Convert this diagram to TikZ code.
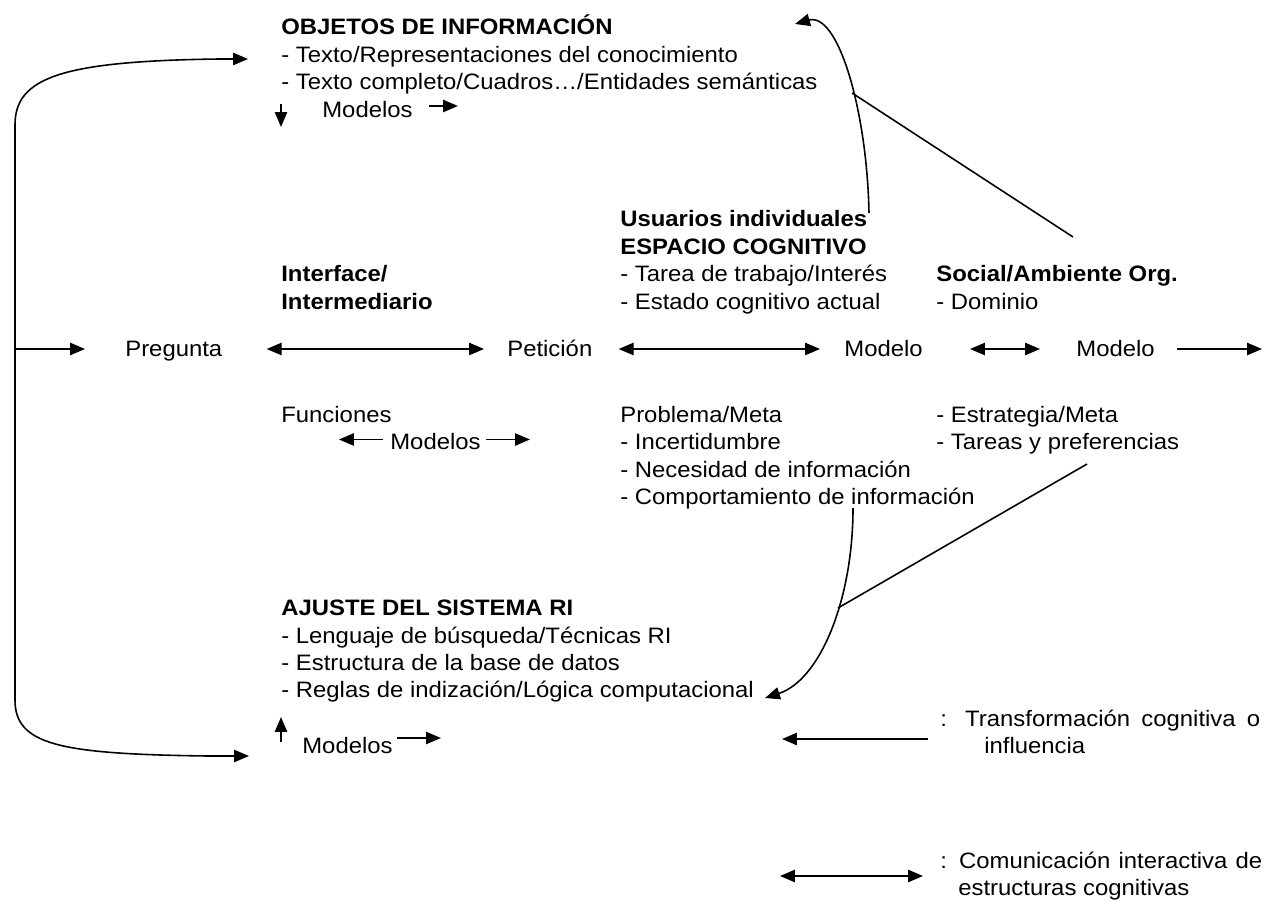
\documentclass[tikz,border=0pt]{standalone}
\usepackage{fontspec}
\setmainfont{Liberation Sans}[FakeStretch=1.07]
\usetikzlibrary{arrows.meta,calc}
% left-aligned block of lines whose baseline is that of its first line
\newcommand\lineblock[1]{\vtop{\halign{##\hfil\cr#1\crcr}}}
\begin{document}
\begin{tikzpicture}[x=0.02cm,y=-0.02cm,
  txt/.style={anchor=base west,inner sep=0pt,
    font=\fontsize{12.7}{15.65}\selectfont},
  conn/.style={line width=0.9pt,line cap=butt},
  tip/.style={conn,-{Triangle[length=8.5pt,width=7pt]}},
  dtip/.style={conn,{Triangle[length=8.5pt,width=7pt]}-{Triangle[length=8.5pt,width=7pt]}},
]
\useasboundingbox (0,0) rectangle (1266,901);

% ---- text blocks (placed by the baseline of their first line)
\node[txt] (obj) at (281,35) {\lineblock{\textbf{OBJETOS DE INFORMACIÓN}\cr
  - Texto/Representaciones del conocimiento\cr
  - Texto completo/Cuadros…/Entidades semánticas}};
\node[txt] (modA) at (322,118) {Modelos};

\node[txt] (inter) at (281,282) {\lineblock{\textbf{Interface/}\cr\textbf{Intermediario}}};
\node[txt] (usu) at (620,227) {\lineblock{\textbf{Usuarios individuales}\cr
  \textbf{ESPACIO COGNITIVO}\cr
  - Tarea de trabajo/Interés\cr
  - Estado cognitivo actual}};
\node[txt] (soc) at (936,282) {\lineblock{\textbf{Social/Ambiente Org.}\cr- Dominio}};

\node[txt] (preg) at (125,357) {Pregunta};
\node[txt] (pet)  at (507,357) {Petición};
\node[txt] (modU) at (844,357) {Modelo};
\node[txt] (modS) at (1076,357) {Modelo};

\node[txt] (fun) at (281,422.5) {Funciones};
\node[txt] (modI) at (390,449.5) {Modelos};
\node[txt] (prob) at (620,422.5) {\lineblock{Problema/Meta\cr
  - Incertidumbre\cr
  - Necesidad de información\cr
  - Comportamiento de información}};
\node[txt] (estr) at (936,422.5) {\lineblock{- Estrategia/Meta\cr- Tareas y preferencias}};

\node[txt] (aju) at (281,615.5) {\lineblock{\textbf{AJUSTE DEL SISTEMA RI}\cr
  - Lenguaje de búsqueda/Técnicas RI\cr
  - Estructura de la base de datos\cr
  - Reglas de indización/Lógica computacional}};
\node[txt] (modR) at (302,753) {Modelos};

% ---- legend
\node[txt] (leg1) at (940,726) {\lineblock{\makebox[6.4cm][s]{: Transformación cognitiva o}\cr
  \hspace*{0.88cm}influencia}};
\node[txt] (leg2) at (940,868) {\lineblock{\makebox[6.44cm][s]{: Comunicación interactiva de}\cr
  \hspace*{0.36cm}estructuras cognitivas}};

% ---- coordinates for free connector ends
\coordinate (loop) at (15,349);
\coordinate (objIn) at (248,59);
\coordinate (ajuIn) at (249,756);
\coordinate (outR) at (1262,349);
\coordinate (c1s) at (869,213);
\coordinate (c1e) at (795,24);
\coordinate (l1a) at (852,93);
\coordinate (l1b) at (1073,237);
\coordinate (c2s) at (853,508);
\coordinate (c2e) at (765,698);
\coordinate (l2a) at (1087,464);
\coordinate (l2b) at (838,608);
\coordinate (lg1a) at (928,739);
\coordinate (lg1b) at (782,739);
\coordinate (lg2a) at (780,876);
\coordinate (lg2b) at (923,876);

% ---- feedback loop on the left
\draw[tip] (loop) -- (15,125) .. controls (15,78) and (60,61) .. (220,59) -- (objIn);
\draw[tip] (loop) -- (15,700) .. controls (15,745) and (60,754) .. (207,756) -- (ajuIn);
\draw[tip] (loop) -- ($(preg.base west)+(-40,-8)$);

% ---- main row
\draw[dtip] ($(preg.base east)+(44,-8)$) -- ($(pet.base west)+(-23,-8)$);
\draw[dtip] ($(pet.base east)+(26,-8)$) -- ($(modU.base west)+(-24,-8)$);
\draw[dtip] ($(modU.base east)+(47,-8)$) -- ($(modS.base west)+(-36,-8)$);
\draw[tip]  ($(modS.base east)+(22,-8)$) -- (outR);

% ---- small model arrows
\draw[tip] ($(modA.base west)+(-41,-14)$) -- ($(modA.base west)+(-41,9)$);
\draw[tip] ($(modA.base east)+(16,-12)$) -- ($(modA.base east)+(45,-12)$);
\draw[tip] ($(modI.base west)+(-7,-10)$) -- ($(modI.base west)+(-51,-10)$);
\draw[tip] ($(modI.base east)+(5,-10)$) -- ($(modI.base east)+(49,-10)$);
\draw[tip] ($(modR.base west)+(-21,-11)$) -- ($(modR.base west)+(-21,-36)$);
\draw[tip] ($(modR.base east)+(4,-15)$) -- ($(modR.base east)+(48,-15)$);

% ---- influences
\draw[tip] (c1s) .. controls (867,110) and (838,12) .. (c1e);
\draw[conn] (l1a) -- (l1b);
\draw[tip] (c2s) .. controls (853,600) and (820,680) .. (c2e);
\draw[conn] (l2a) -- (l2b);

% ---- legend arrows
\draw[tip] (lg1a) -- (lg1b);
\draw[dtip] (lg2a) -- (lg2b);
\end{tikzpicture}
\end{document}
